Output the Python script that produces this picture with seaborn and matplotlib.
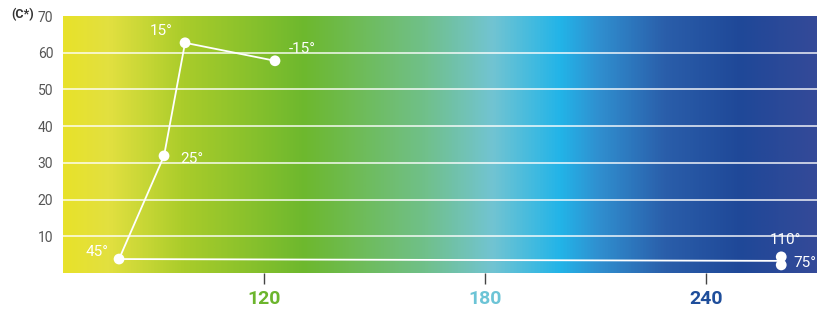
import numpy as np
import pandas as pd
import matplotlib
matplotlib.use("Agg")
import matplotlib.pyplot as plt
import seaborn as sns
from matplotlib.colors import LinearSegmentedColormap

# hue angle (h) vs chroma (C*) for each measured angle
angles = ["-15°", "15°", "25°", "45°", "75°", "110°"]
hue = [123.0, 98.6, 92.9, 80.7, 260.3, 260.3]
chroma = [57.8, 62.7, 31.9, 3.8, 2.2, 4.4]

x_ticks = [120, 180, 240]
x_tick_colors = ["#6cb52d", "#6cc4d6", "#1f4e9b"]
y_ticks = [10, 20, 30, 40, 50, 60, 70]

df = pd.DataFrame({"angle": angles, "h": hue, "C": chroma})

sns.set_theme(style="white")
plt.rcParams["font.family"] = ["Roboto", "DejaVu Sans"]

fig = plt.figure(figsize=(8.17, 3.15), dpi=100)
ax = fig.add_axes([63 / 817, 1 - 273 / 315, 1 - 63 / 817, (273 - 16) / 315])

xmin, xmax = 65.5, 270.0
ymin, ymax = 0, 70

# background hue gradient
stops = [
    (0.00, "#e8e22a"), (0.06, "#e2e040"), (0.16, "#a9cc2a"),
    (0.32, "#6db82e"), (0.48, "#70c08a"), (0.57, "#72c4d2"),
    (0.66, "#22b4e8"), (0.71, "#3090d0"), (0.80, "#2a5eaa"),
    (0.90, "#1f4898"), (1.00, "#344a98"),
]
cmap = LinearSegmentedColormap.from_list("hue_grad", stops)
grad = np.linspace(0, 1, 512).reshape(1, -1)
ax.imshow(grad, cmap=cmap, aspect="auto", extent=[xmin, xmax, ymin, ymax],
          zorder=0, interpolation="bilinear")

for yv in y_ticks[:-1]:
    ax.axhline(yv, color="white", lw=1.2, alpha=0.85, zorder=1)

sns.lineplot(data=df, x="h", y="C", sort=False, color="white", lw=1.3,
             ax=ax, zorder=2)
sns.scatterplot(data=df, x="h", y="C", color="white", s=60, edgecolor="none",
                ax=ax, zorder=3)

offsets = {"-15°": (27, 12), "15°": (-24, 12), "25°": (28, -3),
           "45°": (-22, 7), "75°": (24, 2), "110°": (4, 17)}
for _, r in df.iterrows():
    ax.annotate(r["angle"], (r["h"], r["C"]), xytext=offsets[r["angle"]],
                textcoords="offset pixels", ha="center", va="center",
                color="white", fontsize=11, zorder=4, annotation_clip=False)

ax.set_xlim(xmin, xmax)
ax.set_ylim(ymin, ymax)
ax.set_xticks(x_ticks)
ax.set_xticklabels([str(t) for t in x_ticks], fontsize=14, fontweight="bold")
for lab, c in zip(ax.get_xticklabels(), x_tick_colors):
    lab.set_color(c)
ax.set_yticks(y_ticks)
ax.set_yticklabels([str(t) for t in y_ticks], fontsize=10, color="#555555")
ax.tick_params(axis="x", bottom=True, length=8, width=1, color="#444444",
               pad=4, direction="out")
ax.tick_params(axis="y", left=False, length=0, pad=7)
ax.set_xlabel("")
ax.set_ylabel("")
for s in ax.spines.values():
    s.set_visible(False)

fig.text(11 / 817, 1 - 15 / 315, "(C*)", fontsize=9, fontweight="bold",
         color="#333333", va="center", ha="left")

fig.savefig("out.png", dpi=100)
